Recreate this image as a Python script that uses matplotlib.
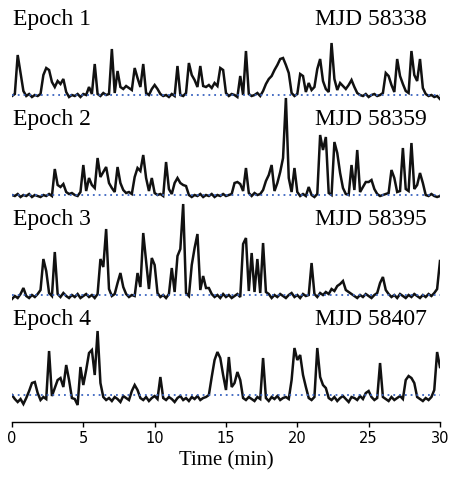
import matplotlib
matplotlib.use("Agg")
import matplotlib.pyplot as plt
import numpy as np

# light curves sampled every 0.2 min, relative flux above the quiescent level
cadence = 0.2  # min

epoch_names = ["Epoch 1", "Epoch 2", "Epoch 3", "Epoch 4"]
epoch_mjd = ["MJD 58338", "MJD 58359", "MJD 58395", "MJD 58407"]

flux_1 = [
    -0.1, 0.1, 4.0, 2.2, 0.4, -0.1, 0.1, -0.2, 0.0, -0.1,
    0.1, 2.0, 2.7, 2.5, 1.3, 0.8, 1.4, 1.1, 1.6, 0.3,
    -0.2, 0.0, -0.1, 0.1, -0.2, 0.1, 0.0, 0.8, 0.1, 3.1,
    0.1, -0.1, 0.2, 0.0, 0.1, 4.6, 0.2, 2.4, 0.8, 0.6,
    0.9, 0.7, 0.5, 2.7, 1.7, 0.8, 3.1, 0.2, 0.0, 0.6,
    1.0, 0.6, 0.1, -0.1, 0.0, -0.2, 0.1, -0.1, 2.9, 0.0,
    -0.1, 0.2, 3.2, 2.0, 1.5, 0.8, 2.9, 0.9, 0.8, 1.0,
    0.7, 1.2, 0.9, 2.7, 2.5, 0.2, -0.1, 0.1, 0.0, -0.2,
    1.9, 0.0, 4.4, 0.1, -0.1, 0.0, 0.2, -0.1, 0.4, 1.1,
    1.6, 1.9, 2.5, 3.0, 3.6, 3.7, 3.0, 2.2, 0.2, -0.1,
    0.1, 2.1, 1.9, 0.3, 1.2, 0.5, 0.8, 2.6, 3.6, 1.4,
    0.6, 0.3, 5.2, 1.6, 0.5, 1.2, 0.9, 0.6, 1.0, 1.5,
    0.8, 0.2, 0.0, -0.1, 0.1, -0.2, 0.0, 0.1, -0.1, 0.0,
    0.2, 2.2, 1.9, 1.0, 0.3, 3.6, 1.9, 1.1, 0.4, 0.2,
    4.4, 2.0, 1.4, 3.6, 0.7, 0.1, -0.1, 0.0, -0.2, -0.1,
    -0.4,
]

flux_2 = [
    0.0, -0.1, 0.1, -0.2, 0.0, -0.1, 0.1, -0.2, 0.0, -0.1,
    -0.2, 0.0, -0.1, 0.1, -0.1, 2.6, 1.0, 0.8, 1.1, 0.3,
    0.1, 0.2, 0.0, -0.1, 0.3, 3.0, 0.4, 1.7, 1.0, 0.7,
    3.7, 1.8, 2.3, 2.8, 1.2, 0.7, 0.3, 2.8, 1.2, 0.5,
    0.2, 0.3, 0.1, 1.8, 2.7, 2.4, 4.0, 1.7, 0.4, 1.7,
    0.2, 0.0, 0.1, -0.1, 3.3, 0.6, 0.1, 1.2, 1.7, 1.2,
    1.0, 0.9, 0.0, -0.2, 0.0, -0.1, 0.1, -0.2, 0.0, -0.1,
    0.1, -0.2, 0.0, -0.1, 0.1, -0.1, 0.0, 0.1, 1.2, 1.3,
    1.1, 0.4, 2.7, 0.2, -0.1, 0.2, 0.0, 0.1, 0.5, 1.4,
    2.0, 3.0, 0.4, 1.2, 2.3, 3.7, 9.7, 1.7, 0.3, 2.7,
    0.3, -0.1, 0.1, -0.1, 0.8, 0.0, -0.2, 0.1, 6.0, 4.5,
    5.8, 0.2, 0.0, 5.3, 4.2, 2.2, 0.7, 0.1, 0.0, 3.0,
    0.5, 4.5, 0.3, 0.8, 1.3, 1.3, 1.5, 0.6, 0.1, -0.1,
    0.0, 0.1, 0.2, 2.5, 1.7, 0.3, 0.4, 4.7, 0.6, 0.4,
    5.2, 0.6, 1.0, 2.2, 1.2, 0.0, -0.1, 0.1, -0.1, -0.2,
    -0.1,
]

flux_3 = [
    -0.4, -0.1, -0.3, 0.1, 0.7, -0.1, -0.3, 0.0, -0.2, 0.1,
    0.5, 3.6, 2.4, 0.2, -0.1, 4.3, 0.1, -0.2, 0.2, -0.1,
    -0.3, 0.0, -0.2, 0.1, -0.3, -0.1, 0.1, -0.2, 0.0, -0.3,
    0.1, 3.6, 2.8, 6.6, 0.6, -0.1, 0.1, 1.2, 2.2, 0.8,
    0.1, -0.2, 0.0, -0.1, 2.2, 0.8, 6.2, 3.4, 0.6, 3.7,
    3.0, 0.2, -0.2, 0.0, -0.3, 0.1, 2.7, 0.3, 3.9, 4.6,
    9.1, 0.2, -0.1, 3.0, 4.7, 6.1, 0.5, 1.9, 0.7, 0.7,
    0.1, -0.2, 0.0, -0.3, 0.1, -0.2, 0.0, -0.3, -0.1, 0.1,
    -0.2, 5.1, 5.7, 0.4, 4.2, 0.3, 3.6, 0.2, 5.2, 0.3,
    0.1, -0.3, 0.0, -0.2, 0.1, -0.1, -0.3, 0.0, 0.2, -0.2,
    0.0, -0.3, 0.1, -0.1, 0.0, 3.2, 0.1, -0.2, 0.2, 0.0,
    0.3, 0.1, 0.6, 0.4, 0.9, 1.1, 1.4, 0.5, 0.3, 0.1,
    -0.1, -0.3, 0.0, -0.2, 0.1, -0.1, -0.3, 0.0, 0.2, 1.2,
    1.8, 0.5, 0.1, -0.2, 0.0, -0.3, 0.1, -0.1, -0.3, 0.0,
    -0.2, 0.1, -0.1, -0.3, 0.0, -0.2, 0.1, -0.1, 0.2, 0.6,
    3.4,
]

flux_4 = [
    0.0, -0.4, -0.7, -0.4, -0.9, -0.3, 0.4, 1.2, 1.3, 0.2,
    -0.5, -0.2, -0.4, 4.4, -0.1, 0.7, 1.5, 1.7, 0.8, 3.0,
    1.5, -0.3, -0.4, -1.0, 2.8, 1.0, 2.5, 4.2, 4.5, 2.0,
    6.4, 1.2, -0.2, -0.5, -0.3, -0.6, -0.2, -0.4, -0.7, -0.1,
    -0.3, -0.5, 0.4, 1.0, 0.5, -0.3, -0.5, -0.2, -0.6, -0.3,
    -0.1, -0.4, 1.8, -0.3, -0.5, -0.2, -0.4, -0.7, -0.3, -0.1,
    -0.5, -0.3, -0.6, -0.2, -0.4, -0.1, -0.5, -0.3, -0.2, 0.0,
    1.8, 3.5, 4.3, 3.7, 2.0, 0.5, 3.8, 0.8, 1.2, 2.3,
    1.5, -0.3, -0.5, -0.2, -0.4, -0.6, -0.2, -0.4, 3.7, -0.3,
    -0.6, -0.2, -0.4, -0.1, -0.5, -0.3, -0.2, -0.4, 1.5, 4.7,
    3.5, 4.0, 2.0, 0.8, -0.3, -0.5, -0.2, 4.7, 1.8, 1.0,
    0.7, -0.3, -0.5, -0.2, -0.6, -0.3, -0.1, -0.4, -0.7, -0.2,
    -0.3, -0.5, -0.1, -0.4, 0.2, 0.4, -0.2, -0.5, -0.3, 3.2,
    -0.2, -0.4, -0.6, -0.2, -0.5, -0.3, -0.1, -0.4, 1.5, 1.9,
    1.7, 1.2, -0.2, -0.4, -0.6, -0.3, -0.5, -0.2, 0.5, 4.3,
    2.8,
]

all_flux = [flux_1, flux_2, flux_3, flux_4]
offsets = [30, 20, 10, 0]

fig = plt.figure(figsize=(4.49, 4.80), dpi=100)
ax = fig.add_axes([0.0267, 0.1208, 0.9532, 0.8792])

for name, mjd, flux, off in zip(epoch_names, epoch_mjd, all_flux, offsets):
    flux = np.array(flux)
    t = np.arange(len(flux)) * cadence
    ax.plot(t, flux + off, color="#111111", lw=1.8, solid_joinstyle="miter")
    ax.axhline(off, color="#3a64c0", lw=1.3, ls=(0, (1, 2.2)), zorder=3)
    ax.text(0.05, off + 7.0, name, family="Liberation Serif", fontsize=17,
            ha="left", va="baseline")
    ax.text(29.1, off + 7.0, mjd, family="Liberation Serif", fontsize=17,
            ha="right", va="baseline")

ax.set_xlim(0, 30)
ax.set_ylim(-2.7, 39.5)
ax.set_xticks([0, 5, 10, 15, 20, 25, 30])
ax.set_yticks([])
for side in ["left", "right", "top"]:
    ax.spines[side].set_visible(False)
ax.spines["bottom"].set_linewidth(1.0)
ax.tick_params(axis="x", length=3.5, width=1.0, labelsize=10.5, pad=3)
ax.set_xlabel("Time (min)", family="Liberation Serif", fontsize=15, labelpad=4)

fig.savefig("out.png", dpi=100)
